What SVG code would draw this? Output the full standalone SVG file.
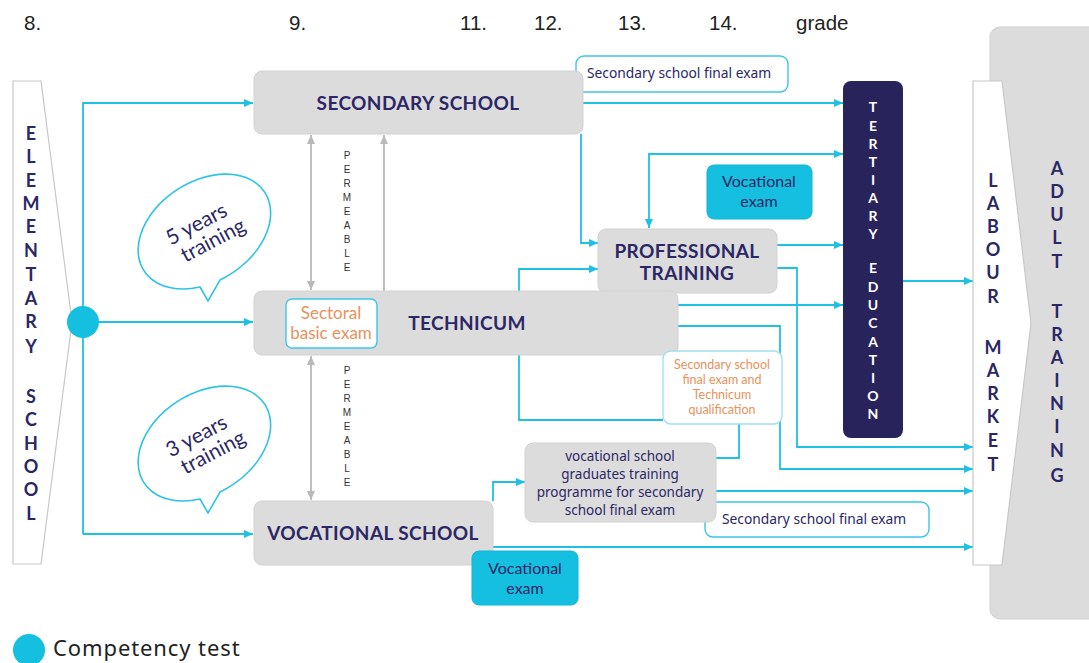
<svg xmlns="http://www.w3.org/2000/svg" width="1089" height="663" viewBox="0 0 1089 663">
  <style>
    .grade { font-family: "Liberation Sans", Arial, sans-serif; font-size: 20.5px; fill: #222; }
    .box { fill: #dddcdd; stroke: #d2d2d2; stroke-width: 1; }
    .head { font-family: Lato, "Noto Sans", sans-serif; font-weight: 700; font-size: 19px; fill: #2b2765; text-anchor: middle; letter-spacing: 0.4px; }
    .small { font-family: "Noto Sans", Lato, sans-serif; font-size: 13.5px; fill: #2b2765; text-anchor: middle; }
    .lbl { font-family: "Noto Sans", Lato, sans-serif; font-size: 13.8px; fill: #2b2765; }
    .orange { font-family: Lato, "Noto Sans", sans-serif; fill: #e8925c; text-anchor: middle; }
    .tag { fill: #ffffff; stroke: #3cc6e6; stroke-width: 1.4; }
    .exam { fill: #14bfe0; stroke: #10b4d6; stroke-width: 1; }
    .vert { font-family: Lato, "Noto Sans", sans-serif; font-weight: 700; font-size: 18px; fill: #2b2765; text-anchor: middle; }
    .tert { font-family: Lato, "Noto Sans", sans-serif; font-weight: 700; font-size: 14px; fill: #ffffff; text-anchor: middle; }
    .perm { font-family: "Liberation Sans", Arial, sans-serif; font-size: 10px; fill: #333; text-anchor: middle; }
    .bubble { fill: #ffffff; stroke: #2cc3e5; stroke-width: 1.6; }
    .btxt { font-family: Lato, "Noto Sans", sans-serif; font-size: 21px; fill: #2b2765; text-anchor: middle; }
    .flow { fill: none; stroke: #1ec0e4; stroke-width: 1.8; }
    .flow-end { marker-end: url(#arrowCyan); }
    .perm-line { fill: none; stroke: #b9b9b9; stroke-width: 1.8; }
  </style>
  <defs>
    <marker id="arrowCyan" markerUnits="userSpaceOnUse" markerWidth="10" markerHeight="10" refX="9" refY="4" orient="auto-start-reverse">
      <path d="M0,0 L9,4 L0,8 Z" fill="#1ec0e4"/>
    </marker>
    <marker id="arrowGray" markerUnits="userSpaceOnUse" markerWidth="10" markerHeight="10" refX="9" refY="4" orient="auto-start-reverse">
      <path d="M0,0 L9,4 L0,8 Z" fill="#b9b9b9"/>
    </marker>
  </defs>

  <!-- grade header -->
  <g id="grades">
    <text class="grade" x="24" y="30">8.</text>
    <text class="grade" x="289" y="30">9.</text>
    <text class="grade" x="460" y="30">11.</text>
    <text class="grade" x="534" y="30">12.</text>
    <text class="grade" x="618" y="30">13.</text>
    <text class="grade" x="709" y="30">14.</text>
    <text class="grade" x="796" y="30">grade</text>
  </g>

  <!-- adult training backdrop -->
  <g id="adult-training">
    <rect x="990" y="27" width="130" height="592" rx="10" fill="#dddcdd" stroke="#cfcfcf"/>
    <g class="vert">
      <text x="1057" y="175">A</text>
      <text x="1057" y="198">D</text>
      <text x="1057" y="221">U</text>
      <text x="1057" y="244">L</text>
      <text x="1057" y="268">T</text>
      <text x="1057" y="318">T</text>
      <text x="1057" y="341">R</text>
      <text x="1057" y="364">A</text>
      <text x="1057" y="387">I</text>
      <text x="1057" y="410">N</text>
      <text x="1057" y="433">I</text>
      <text x="1057" y="457">N</text>
      <text x="1057" y="482">G</text>
    </g>
  </g>

  <!-- connectors -->
  <g id="connectors">
    <path class="flow flow-end" d="M83,534 V103 H253"/>
    <path class="flow flow-end" d="M83,322 H253"/>
    <path class="flow flow-end" d="M83,534 H253"/>
    <path class="flow flow-end" d="M583,103 H843"/>
    <path class="flow flow-end" d="M581,134 V243 H598"/>
    <path class="flow flow-end" d="M649,228 V154 H843" style="marker-start:url(#arrowCyan)"/>
    <path class="flow flow-end" d="M777,245 H843"/>
    <path class="flow flow-end" d="M777,268 H797 V447 H973"/>
    <path class="flow flow-end" d="M678,305 H843"/>
    <path class="flow flow-end" d="M678,326 H780 V469 H973"/>
    <path class="flow flow-end" d="M663,420 H519 V269 H598"/>
    <path class="flow" d="M739,424 V458 H716"/>
    <path class="flow flow-end" d="M716,491 H973"/>
    <path class="flow flow-end" d="M493,501 V482 H525"/>
    <path class="flow flow-end" d="M493,547 H973"/>
    <path class="flow flow-end" d="M903,281 H973"/>
    <path class="perm-line" d="M311,135 V290" marker-start="url(#arrowGray)" marker-end="url(#arrowGray)"/>
    <path class="perm-line" d="M384,291 V135" marker-end="url(#arrowGray)"/>
    <path class="perm-line" d="M311,356 V500" marker-start="url(#arrowGray)" marker-end="url(#arrowGray)"/>
  </g>

  <!-- permeability labels -->
  <g id="permeable-upper" class="perm">
    <text x="347" y="159">P</text>
    <text x="347" y="173">E</text>
    <text x="347" y="187">R</text>
    <text x="347" y="201">M</text>
    <text x="347" y="215">E</text>
    <text x="347" y="229">A</text>
    <text x="347" y="243">B</text>
    <text x="347" y="257">L</text>
    <text x="347" y="271">E</text>
  </g>
  <g id="permeable-lower" class="perm">
    <text x="347" y="374">P</text>
    <text x="347" y="388">E</text>
    <text x="347" y="402">R</text>
    <text x="347" y="416">M</text>
    <text x="347" y="430">E</text>
    <text x="347" y="444">A</text>
    <text x="347" y="458">B</text>
    <text x="347" y="472">L</text>
    <text x="347" y="486">E</text>
  </g>

  <!-- elementary school -->
  <g id="elementary-school">
    <polygon points="13,81 41,81 72,322 41,564 13,564" fill="#ffffff" stroke="#c8c8c8" stroke-width="1.2"/>
    <g class="vert">
      <text x="31" y="140">E</text>
      <text x="31" y="163">L</text>
      <text x="31" y="187">E</text>
      <text x="31" y="210">M</text>
      <text x="31" y="233">E</text>
      <text x="31" y="257">N</text>
      <text x="31" y="281">T</text>
      <text x="31" y="305">A</text>
      <text x="31" y="328">R</text>
      <text x="31" y="353">Y</text>
      <text x="31" y="403">S</text>
      <text x="31" y="426">C</text>
      <text x="31" y="450">H</text>
      <text x="31" y="473">O</text>
      <text x="31" y="496">O</text>
      <text x="31" y="520">L</text>
    </g>
  </g>

  <!-- competency test point -->
  <g id="competency-dot">
    <circle cx="83" cy="322" r="16" fill="#14bfe0"/>
  </g>

  <!-- speech bubbles -->
  <g id="bubble-5">
    <path class="bubble" d="M200,287 L208,301 L220,280 A72 50 -33 1 0 200,287 Z"/>
    <g transform="rotate(-28 204 236)">
      <text class="btxt" x="203" y="229">5 years</text>
      <text class="btxt" x="210" y="251">training</text>
    </g>
  </g>
  <g id="bubble-3">
    <path class="bubble" d="M200,499 L208,513 L220,492 A72 50 -33 1 0 200,499 Z"/>
    <g transform="rotate(-28 204 448)">
      <text class="btxt" x="203" y="441">3 years</text>
      <text class="btxt" x="210" y="463">training</text>
    </g>
  </g>

  <!-- secondary school -->
  <g id="secondary-final-exam-top">
    <rect class="tag" x="576" y="56" width="212" height="36" rx="8"/>
    <text class="lbl" x="587" y="78">Secondary school final exam</text>
  </g>
  <g id="secondary-school">
    <rect class="box" x="254" y="71" width="329" height="63" rx="8"/>
    <text class="head" x="418" y="110">SECONDARY SCHOOL</text>
  </g>

  <!-- vocational exam (upper) -->
  <g id="vocational-exam-top">
    <rect class="exam" x="707" y="165" width="105" height="54" rx="7"/>
    <text class="small" x="759" y="187" style="font-family:Lato,'Noto Sans',sans-serif;font-size:16px">Vocational</text>
    <text class="small" x="759" y="207" style="font-family:Lato,'Noto Sans',sans-serif;font-size:16px">exam</text>
  </g>

  <!-- professional training -->
  <g id="professional-training">
    <rect class="box" x="598" y="229" width="179" height="64" rx="8"/>
    <text class="head" x="687" y="258">PROFESSIONAL</text>
    <text class="head" x="687" y="280">TRAINING</text>
  </g>

  <!-- technicum -->
  <g id="technicum">
    <rect class="box" x="254" y="291" width="424" height="64" rx="8"/>
    <text class="head" x="467" y="330">TECHNICUM</text>
    <rect class="tag" x="286" y="299" width="91" height="49" rx="6"/>
    <text class="orange" x="331" y="319" style="font-size:17px">Sectoral</text>
    <text class="orange" x="331" y="339" style="font-size:17px">basic exam</text>
  </g>

  <!-- secondary school final exam and technicum qualification -->
  <g id="technicum-qualification">
    <rect class="tag" x="663" y="351" width="119" height="73" rx="8" style="stroke:#9fe0f0"/>
    <g class="orange" style="font-size:12.5px">
      <text x="722" y="369">Secondary school</text>
      <text x="722" y="384">final exam and</text>
      <text x="722" y="399">Technicum</text>
      <text x="722" y="414">qualification</text>
    </g>
  </g>

  <!-- tertiary education -->
  <g id="tertiary-education">
    <rect x="843" y="81" width="60" height="357" rx="8" fill="#29235c"/>
    <g class="tert">
      <text x="873" y="112">T</text>
      <text x="873" y="131">E</text>
      <text x="873" y="149">R</text>
      <text x="873" y="167">T</text>
      <text x="873" y="185">I</text>
      <text x="873" y="203">A</text>
      <text x="873" y="221">R</text>
      <text x="873" y="239">Y</text>
      <text x="873" y="273">E</text>
      <text x="873" y="292">D</text>
      <text x="873" y="310">U</text>
      <text x="873" y="328">C</text>
      <text x="873" y="347">A</text>
      <text x="873" y="365">T</text>
      <text x="873" y="383">I</text>
      <text x="873" y="401">O</text>
      <text x="873" y="419">N</text>
    </g>
  </g>

  <!-- vocational school graduates programme -->
  <g id="secondary-final-exam-bottom">
    <rect class="tag" x="705" y="502" width="224" height="35" rx="8"/>
    <text class="lbl" x="722" y="524">Secondary school final exam</text>
  </g>
  <g id="graduates-programme">
    <rect class="box" x="525" y="443" width="191" height="79" rx="8"/>
    <text class="small" x="620" y="461">vocational school</text>
    <text class="small" x="620" y="479">graduates training</text>
    <text class="small" x="620" y="497">programme for secondary</text>
    <text class="small" x="620" y="515">school final exam</text>
  </g>

  <!-- vocational school -->
  <g id="vocational-school">
    <rect class="box" x="254" y="501" width="239" height="64" rx="8"/>
    <text class="head" x="373" y="540">VOCATIONAL SCHOOL</text>
  </g>
  <g id="vocational-exam-bottom">
    <rect class="exam" x="472" y="551" width="106" height="54" rx="7"/>
    <text class="small" x="525" y="574" style="font-family:Lato,'Noto Sans',sans-serif;font-size:16px">Vocational</text>
    <text class="small" x="525" y="594" style="font-family:Lato,'Noto Sans',sans-serif;font-size:16px">exam</text>
  </g>

  <!-- labour market -->
  <g id="labour-market">
    <polygon points="973,81 1002,81 1031,323 1002,565 973,565" fill="#ffffff" stroke="#c8c8c8" stroke-width="1.2"/>
    <g class="vert">
      <text x="993" y="187">L</text>
      <text x="993" y="210">A</text>
      <text x="993" y="233">B</text>
      <text x="993" y="256">O</text>
      <text x="993" y="279">U</text>
      <text x="993" y="303">R</text>
      <text x="993" y="354">M</text>
      <text x="993" y="377">A</text>
      <text x="993" y="400">R</text>
      <text x="993" y="423">K</text>
      <text x="993" y="447">E</text>
      <text x="993" y="471">T</text>
    </g>
  </g>

  <!-- legend -->
  <g id="legend">
    <circle cx="29" cy="650" r="16" fill="#14bfe0"/>
    <text x="53" y="656" style="font-family: 'Noto Sans', Lato, sans-serif; font-size: 22px; letter-spacing: 0.9px; fill: #222;">Competency test</text>
  </g>
</svg>
